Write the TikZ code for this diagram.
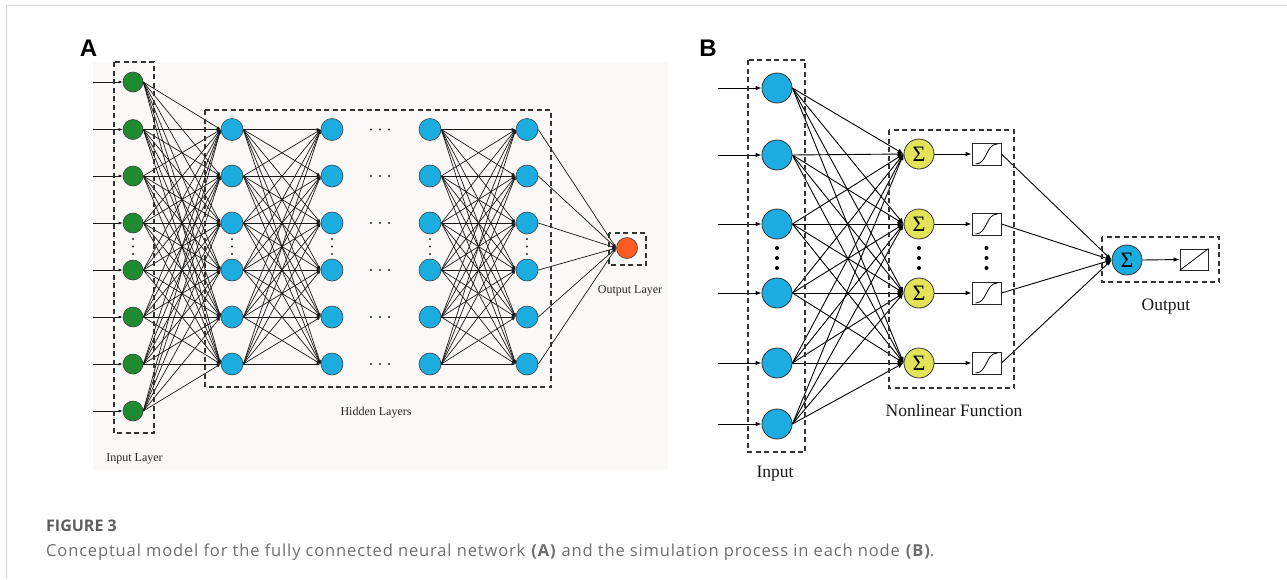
\documentclass[tikz,border=0pt]{standalone}
\usepackage{fontspec}
\setmainfont{Liberation Serif}
\newfontfamily\capfont[LetterSpace=5.2]{Open Sans}
\newfontfamily\capheadfont{Open Sans}
\newfontfamily\panelfont{Liberation Sans}
\usetikzlibrary{arrows.meta}

\definecolor{ngreen}{HTML}{1F8B2E}
\definecolor{nblue}{HTML}{1BADE0}
\definecolor{norange}{HTML}{FF5B22}
\definecolor{nyellow}{HTML}{E3E35A}
\definecolor{panelbg}{HTML}{FBF9F8}
\definecolor{framegray}{HTML}{D4D4D4}
\definecolor{capgray}{HTML}{5E5E5E}
\definecolor{captext}{HTML}{6E6E6E}

\tikzset{
  frameline/.style={draw=framegray, line width=1.3pt},
  dashbox/.style={draw=black!80, line width=1.2pt, dash pattern=on 5pt off 3.5pt},
  anode/.style={circle, draw=black!75, line width=0.6pt, inner sep=0pt},
  ain/.style={anode, fill=ngreen, minimum size=20pt},
  ahid/.style={anode, fill=nblue, minimum size=22pt},
  aout/.style={anode, fill=norange, minimum size=21pt},
  aedge/.style={draw=black!90, line width=0.7pt, -{Latex[length=4pt,width=3pt]}},
  alabel/.style={font=\fontsize{12}{12}\selectfont, text=black!85},
  bnode/.style={circle, draw=black!80, line width=0.8pt, inner sep=0pt, minimum size=30pt},
  bin/.style={bnode, fill=nblue},
  bsum/.style={bnode, fill=nyellow, font=\fontsize{22}{22}\selectfont},
  bsumout/.style={bnode, fill=nblue, font=\fontsize{22}{22}\selectfont},
  actbox/.style={rectangle, draw=black!85, line width=0.9pt, minimum width=29pt, minimum height=22pt, inner sep=0pt},
  bedge/.style={draw=black, line width=0.9pt, -{Latex[length=6pt,width=4.5pt]}},
  blabel/.style={font=\fontsize{17.5}{17.5}\selectfont, text=black!90},
  panelletter/.style={font=\panelfont\bfseries\fontsize{24}{24}\selectfont},
  adot/.style={fill=black!85, circle, inner sep=0pt, minimum size=2.2pt},
  bdot/.style={fill=black, circle, inner sep=0pt, minimum size=4pt},
}

\begin{document}
\begin{tikzpicture}[x=1pt, y=-1pt]
\useasboundingbox (0,0) rectangle (1287,579);
\fill[white] (0,0) rectangle (1287,579);

% page frame
\draw[frameline] (1287,5.5) -- (6.5,5.5) -- (6.5,579);

% ================= panel A =================
\fill[panelbg] (93,62) rectangle (668,470);
\node[panelletter] (labA) at (88.5,48) {A};

% input layer
\foreach \i/\y in {1/82,2/129.5,3/176,4/223,5/270,6/317,7/364,8/411}{
  \node[ain] (a0\i) at (133,\y) {};
  \coordinate (ain\i) at (93,\y);
}
% hidden layers
\foreach \c/\x in {1/232,2/332,3/430,4/527}{
  \foreach \j/\y in {1/129.5,2/176,3/223,4/270,5/317,6/364}{
    \node[ahid] (a\c\j) at (\x,\y) {};
  }
}
% output layer
\node[aout] (aout) at (627,248) {};

% connections
\foreach \i in {1,...,8}{
  \draw[aedge] (ain\i) -- (a0\i.west);
  \foreach \j in {1,...,6}{ \draw[aedge] (a0\i.east) -- (a1\j.west); }
}
\foreach \i in {1,...,6}{
  \foreach \j in {1,...,6}{
    \draw[aedge] (a1\i.east) -- (a2\j.west);
    \draw[aedge] (a3\i.east) -- (a4\j.west);
  }
  \draw[aedge] (a4\i.east) -- (aout.west);
}

% ellipsis marks
\foreach \x in {133,232,332,430,527}{
  \foreach \y in {239,246.5,254}{ \node[adot] at (\x,\y) {}; }
}
\foreach \y in {129.5,176,223,270,317,364}{
  \foreach \x in {371,380,389}{ \node[adot] at (\x,\y) {}; }
}

% grouping boxes
\draw[dashbox] (114,62) rectangle (154,433);
\draw[dashbox] (205,110) rectangle (551,387);
\draw[dashbox] (609,233) rectangle (646,265);

\node[alabel] (lin) at (134.5,459) {Input Layer};
\node[alabel] (lhid) at (376,413) {Hidden Layers};
\node[alabel] (lout) at (630,291) {Output Layer};

% ================= panel B =================
\node[panelletter] (labB) at (708,48.5) {B};

\foreach \i/\y in {1/88,2/155,3/224,4/293,5/363,6/424}{
  \node[bin] (b\i) at (777,\y) {};
  \coordinate (bin\i) at (718,\y);
}
\foreach \j/\y in {1/154,2/224,3/293,4/363}{
  \node[bsum] (s\j) at (919,\y) {Σ};
  \node[actbox] (f\j) at (986.5,\y) {};
}
\node[bsumout] (so) at (1127,260) {Σ};
\node[actbox, minimum width=28pt, minimum height=21pt] (lo) at (1194,259.5) {};

% sigmoid and linear glyphs
\foreach \j in {1,...,4}{
  \draw[line width=0.8pt] ([shift={(-11,10)}]f\j.center)
    .. controls ([shift={(1,10)}]f\j.center) and ([shift={(-1,-10)}]f\j.center)
    .. ([shift={(11,-10)}]f\j.center);
}
\draw[line width=0.8pt] (lo.south west) -- (lo.north east);

% connections
\foreach \i in {1,...,6}{
  \draw[bedge] (bin\i) -- (b\i.west);
  \foreach \j in {1,...,4}{ \draw[bedge] (b\i.east) -- (s\j.west); }
}
\foreach \j in {1,...,4}{
  \draw[bedge] (s\j.east) -- (f\j.west);
  \draw[bedge] (f\j.east) -- (so.west);
}
\draw[bedge] (so.east) -- (lo.west);

% ellipsis marks
\foreach \x in {777,919,986.5}{
  \foreach \y in {248,258,268}{ \node[bdot] at (\x,\y) {}; }
}

% grouping boxes
\draw[dashbox] (748,60) rectangle (805,452);
\draw[dashbox] (889,130) rectangle (1014,388);
\draw[dashbox] (1102,237) rectangle (1219,282);

\node[blabel] (lbin) at (775,474) {Input};
\node[blabel] (lbnl) at (954,411) {Nonlinear Function};
\node[blabel] (lbout) at (1166,307) {Output};

% ================= caption =================
\node[anchor=west, inner sep=0pt, text=capgray, font=\capheadfont\fontsize{16}{16}\selectfont\bfseries] (cap1) at (46,526) {FIGURE 3};
\node[anchor=west, inner sep=0pt, text=captext, font=\capfont\fontsize{16.5}{16.5}\selectfont] (cap2) at (46,552)
  {Conceptual model for the fully connected neural network \textbf{(A)} and the simulation process in each node \textbf{(B)}.};
\end{tikzpicture}
\end{document}
